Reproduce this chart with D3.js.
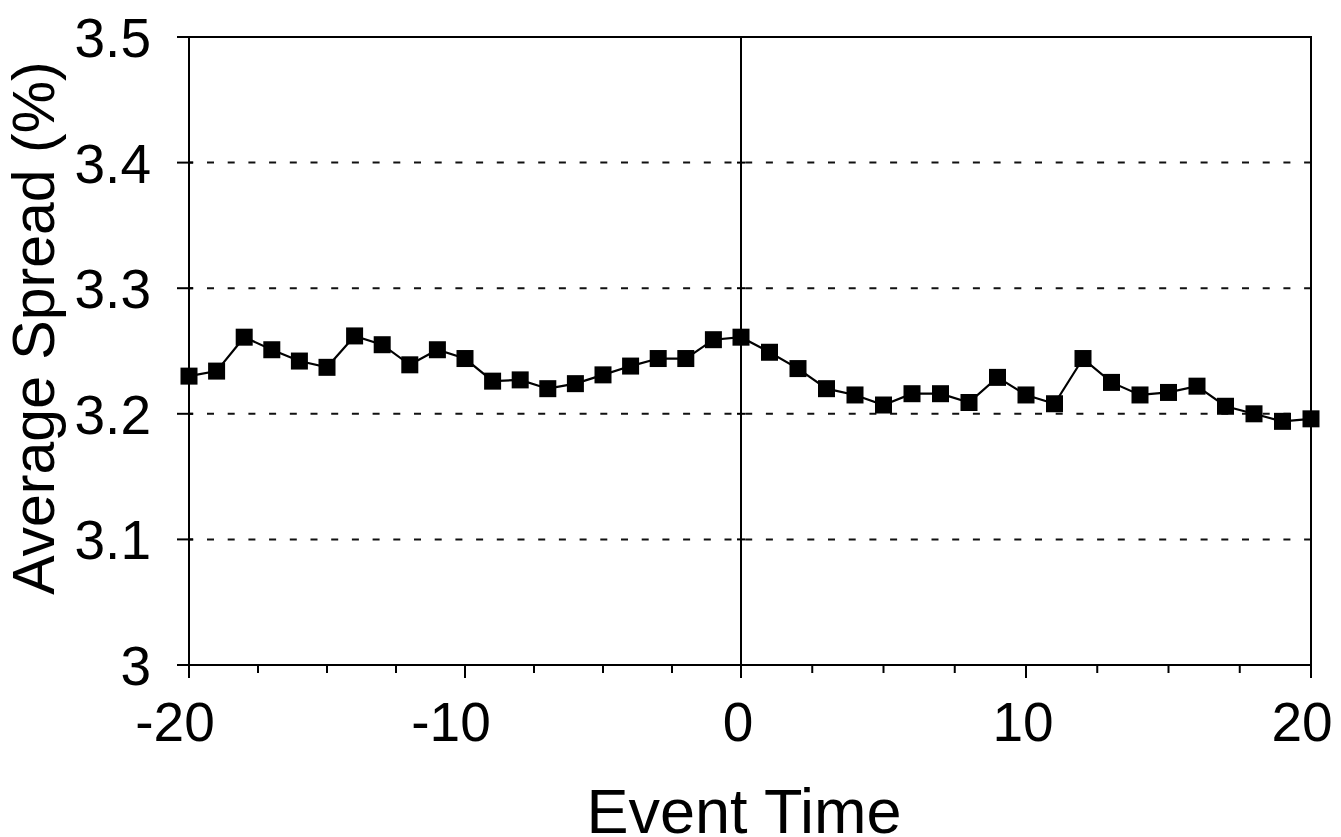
<!DOCTYPE html>
<html>
<head>
<meta charset="utf-8">
<script src="https://cdn.jsdelivr.net/npm/d3@7"></script>
<style>
  body { margin: 0; background: #fff; }
  svg { display: block; font-family: "Liberation Sans", Arial, Helvetica, sans-serif; }
</style>
</head>
<body>
<svg id="chart"></svg>
<script>
// event time, -20..20
let eventTimes = d3.range(-20, 21);
let spreads = [
  3.230, 3.234, 3.261, 3.251, 3.242, 3.237, 3.262, 3.255, 3.239, 3.251,
  3.244, 3.226, 3.227, 3.220, 3.224, 3.231, 3.238, 3.244, 3.244, 3.259,
  3.261, 3.249, 3.236, 3.220, 3.215, 3.207, 3.216, 3.216, 3.209, 3.229,
  3.215, 3.208, 3.244, 3.225, 3.215, 3.217, 3.222, 3.206, 3.200, 3.194,
  3.196
];
let xMajorTicks = [-20, -10, 0, 10, 20];
let xMinorTicks = d3.range(-20, 20.1, 2.5);
let yTicks = [3, 3.1, 3.2, 3.3, 3.4, 3.5];
let yTickLabels = ["3", "3.1", "3.2", "3.3", "3.4", "3.5"];
let gridValues = [3.1, 3.2, 3.3, 3.4];

function getConfig(){
    let width = 1341;
    let height = 837;
    let left = 189, right = 1311, top = 37, bottom = 665;
    let container = d3.select("#chart")
        .attr("width", width)
        .attr("height", height);
    return { width, height, left, right, top, bottom, container };
}

function getScales(config){
    let { left, right, top, bottom } = config;
    // scanned figure is slightly uneven, so pin the middle too
    let xScale = d3.scaleLinear()
        .domain([-20, 0, 20])
        .range([left, 741, right]);
    let yScale = d3.scaleLinear()
        .domain([3, 3.5])
        .range([bottom, top]);
    return { xScale, yScale };
}

function drawGrid(scales, config){
    let { container, left, right } = config;
    let { yScale } = scales;
    container.append("g")
        .selectAll("line")
        .data(gridValues)
        .enter().append("line")
        .attr("x1", left)
        .attr("x2", right)
        .attr("y1", d => yScale(d))
        .attr("y2", d => yScale(d))
        .attr("stroke", "#111")
        .attr("stroke-width", 2)
        .attr("stroke-dasharray", "7,13.7")
        .attr("stroke-dashoffset", 2.7);
}

function drawFrame(scales, config){
    let { container, left, right, top, bottom } = config;
    let { xScale, yScale } = scales;
    let g = container.append("g")
        .attr("stroke", "#000")
        .attr("stroke-width", 2)
        .attr("fill", "none");

    g.append("rect")
        .attr("x", left)
        .attr("y", top)
        .attr("width", right - left)
        .attr("height", bottom - top);

    // vertical line at event time 0
    g.append("line")
        .attr("x1", xScale(0)).attr("x2", xScale(0))
        .attr("y1", top).attr("y2", bottom);

    // y ticks crossing the left axis and the zero line
    g.selectAll(".ytick")
        .data(yTicks)
        .enter().append("line")
        .attr("x1", left - 12).attr("x2", left + 4)
        .attr("y1", d => yScale(d)).attr("y2", d => yScale(d));
    g.selectAll(".ytick0")
        .data(gridValues)
        .enter().append("line")
        .attr("x1", xScale(0) - 4).attr("x2", xScale(0) + 4)
        .attr("y1", d => yScale(d)).attr("y2", d => yScale(d));

    // x ticks
    g.selectAll(".xminor")
        .data(xMinorTicks)
        .enter().append("line")
        .attr("x1", d => xScale(d)).attr("x2", d => xScale(d))
        .attr("y1", bottom)
        .attr("y2", d => xMajorTicks.includes(d) ? bottom + 13 : bottom + 8);
}

function drawLabels(scales, config){
    let { container, left, bottom } = config;
    let { xScale, yScale } = scales;

    container.append("g")
        .selectAll("text")
        .data(yTicks)
        .enter().append("text")
        .attr("x", left - 38)
        .attr("y", d => yScale(d) + 20)
        .attr("text-anchor", "end")
        .style("font-size", "55px")
        .text((d, i) => yTickLabels[i]);

    container.append("g")
        .selectAll("text")
        .data(xMajorTicks)
        .enter().append("text")
        .attr("x", d => xScale(d) + (d < 0 ? -14 : d == 20 ? -9 : -3))
        .attr("y", bottom + 76)
        .attr("text-anchor", "middle")
        .style("font-size", "55px")
        .text(d => d);

    container.append("text")
        .attr("x", 744)
        .attr("y", 833)
        .attr("text-anchor", "middle")
        .style("font-size", "63px")
        .text("Event Time");

    container.append("text")
        .attr("transform", "translate(54,328) rotate(-90)")
        .attr("text-anchor", "middle")
        .style("font-size", "59px")
        .text("Average Spread (%)");
}

function drawSeries(scales, config){
    let { container } = config;
    let { xScale, yScale } = scales;
    let data = eventTimes.map((t, i) => ({ t: t, v: spreads[i] }));

    let line = d3.line()
        .x(d => xScale(d.t))
        .y(d => yScale(d.v));

    container.append("path")
        .datum(data)
        .attr("d", line)
        .attr("fill", "none")
        .attr("stroke", "#000")
        .attr("stroke-width", 2.2);

    let size = 17;
    container.append("g")
        .selectAll("rect")
        .data(data)
        .enter().append("rect")
        .attr("x", d => xScale(d.t) - size / 2)
        .attr("y", d => yScale(d.v) - size / 2)
        .attr("width", size)
        .attr("height", size)
        .attr("fill", "#000");
}

let config = getConfig();
let scales = getScales(config);
drawGrid(scales, config);
drawFrame(scales, config);
drawSeries(scales, config);
drawLabels(scales, config);
</script>
</body>
</html>
